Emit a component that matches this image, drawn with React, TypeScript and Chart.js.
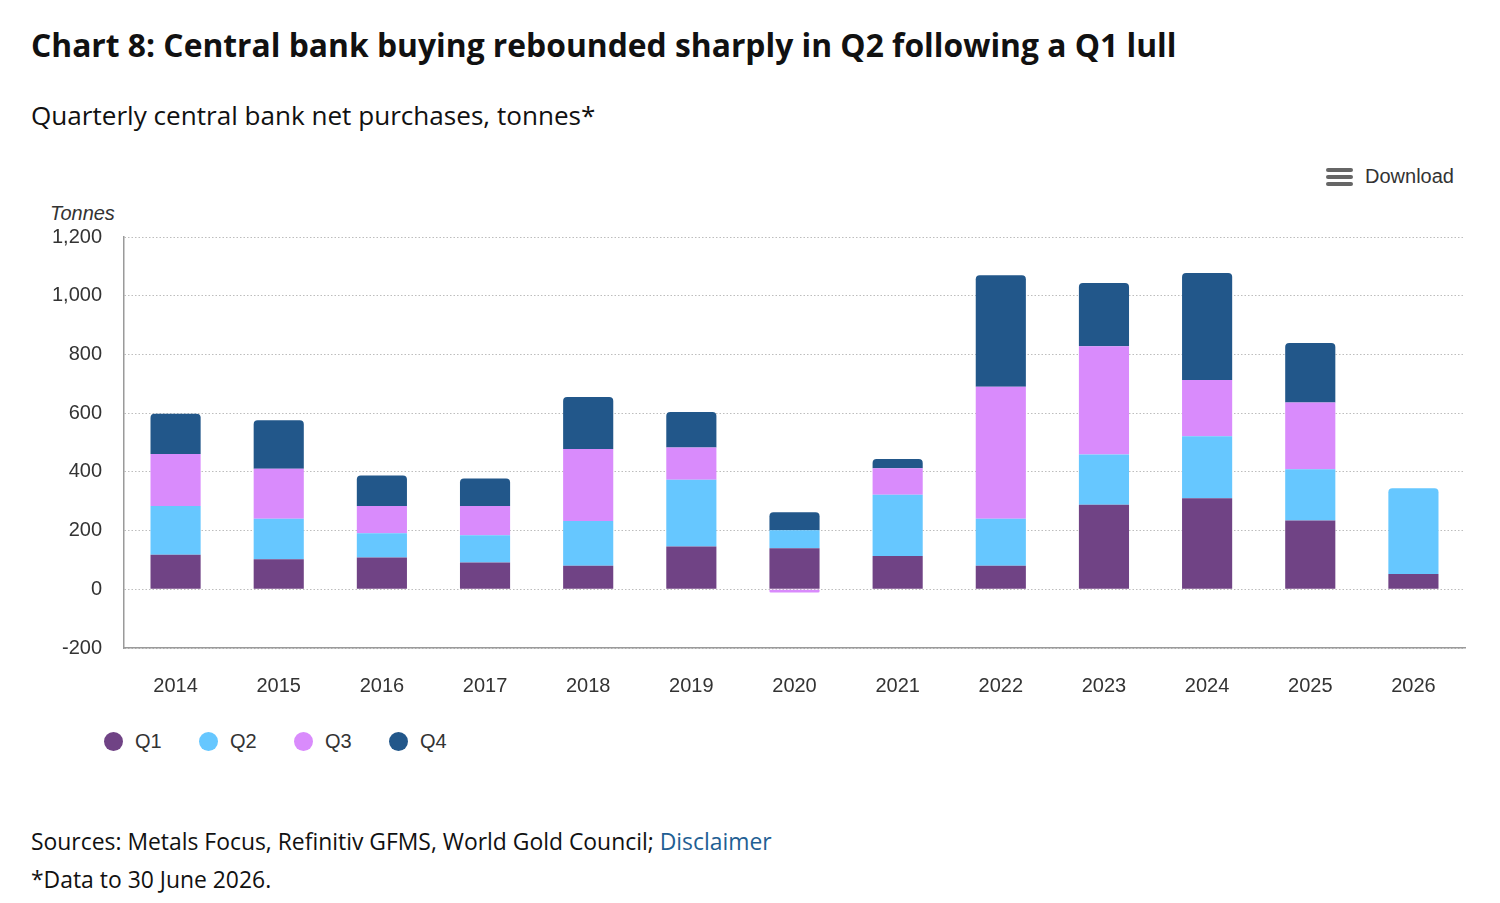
import React, { useEffect, useRef } from "react";
import { Chart, registerables } from "chart.js";

Chart.register(...registerables);

const years = ["2014", "2015", "2016", "2017", "2018", "2019", "2020", "2021", "2022", "2023", "2024", "2025", "2026"];
const q1 = [118, 102, 108, 91, 80, 146, 140, 113, 80, 288, 310, 234, 52];
const q2 = [166, 138, 83, 93, 153, 227, 61, 209, 160, 171, 211, 175, 292];
const q3 = [177, 171, 93, 100, 245, 110, -11, 90, 450, 369, 192, 227, null];
const q4 = [137, 165, 104, 93, 177, 121, 61, 32, 380, 215, 364, 203, null];
const seriesNames = ["Q1", "Q2", "Q3", "Q4"];
const seriesColors = ["#704385", "#66c7ff", "#d98bfc", "#22578a"];
const yTicks = { min: -200, max: 1200, step: 200 };

const AXIS_FONT = "'Liberation Sans', Arial, sans-serif";
const TEXT_FONT = "'Open Sans', 'Noto Sans', sans-serif";

export default function App() {
  const canvasRef = useRef<HTMLCanvasElement | null>(null);

  useEffect(() => {
    document.body.style.margin = "0";
    document.body.style.background = "#fff";
    const canvas = canvasRef.current;
    if (!canvas) return;
    const values = [q1, q2, q3, q4];
    const chart = new Chart(canvas, {
      type: "bar",
      data: {
        labels: years,
        datasets: seriesNames.map((name, i) => ({
          label: name,
          data: values[i],
          backgroundColor: seriesColors[i],
          borderWidth: 0,
          borderRadius: 4,
          borderSkipped: "start",
          categoryPercentage: 0.54,
          barPercentage: 0.9,
        })),
      },
      options: {
        animation: false,
        responsive: false,
        maintainAspectRatio: false,
        devicePixelRatio: 1,
        layout: { padding: { top: 47, right: 25, left: 0, bottom: 0 } },
        plugins: {
          legend: { display: false },
          tooltip: { enabled: false },
        },
        scales: {
          x: {
            stacked: true,
            grid: { display: false, drawTicks: false },
            border: { display: true, color: "#9a9a9a", width: 1.5 },
            ticks: {
              color: "#333",
              font: { family: AXIS_FONT, size: 20 },
              padding: 26,
              maxRotation: 0,
            },
          },
          y: {
            stacked: true,
            min: yTicks.min,
            max: yTicks.max,
            afterFit: (scale: any) => {
              scale.width = 124;
            },
            grid: { color: "#bdbdbd", lineWidth: 1, drawTicks: false },
            border: { display: true, color: "#9a9a9a", width: 1.5, dash: [1.5, 2] },
            ticks: {
              stepSize: yTicks.step,
              color: "#333",
              font: { family: AXIS_FONT, size: 20 },
              padding: 22,
            },
          },
        },
      },
    });
    return () => chart.destroy();
  }, []);

  const legendItems = seriesNames.map((name, i) => (
    <div key={name} style={{ display: "flex", alignItems: "center", width: 95 }}>
      <span
        style={{
          display: "inline-block",
          width: 19,
          height: 19,
          borderRadius: "50%",
          background: seriesColors[i],
          marginRight: 12,
        }}
      />
      <span style={{ font: `20px ${AXIS_FONT}`, color: "#333" }}>{name}</span>
    </div>
  ));

  return (
    <div style={{ position: "relative", width: 1500, height: 903, background: "#fff", overflow: "hidden" }}>
      <div
        style={{
          position: "absolute",
          left: 31,
          top: 29,
          font: `bold 31.8px ${TEXT_FONT}`,
          lineHeight: "31.8px",
          color: "#111",
          whiteSpace: "nowrap",
        }}
      >
        Chart 8: Central bank buying rebounded sharply in Q2 following a Q1 lull
      </div>
      <div
        style={{
          position: "absolute",
          left: 31,
          top: 102,
          font: `26.1px ${TEXT_FONT}`,
          lineHeight: "26.1px",
          color: "#111",
          whiteSpace: "nowrap",
        }}
      >
        Quarterly central bank net purchases, tonnes*
      </div>
      <div style={{ position: "absolute", left: 1326, top: 165, display: "flex", alignItems: "center" }}>
        <div style={{ width: 27, display: "flex", flexDirection: "column", gap: 3 }}>
          <div style={{ height: 4, background: "#666", borderRadius: 2 }} />
          <div style={{ height: 4, background: "#666", borderRadius: 2 }} />
          <div style={{ height: 4, background: "#666", borderRadius: 2 }} />
        </div>
        <span style={{ marginLeft: 12, font: `20px ${AXIS_FONT}`, color: "#333" }}>Download</span>
      </div>
      <div
        style={{
          position: "absolute",
          left: 50,
          top: 203,
          font: `italic 20px ${AXIS_FONT}`,
          lineHeight: "20px",
          color: "#333",
        }}
      >
        Tonnes
      </div>
      <canvas
        ref={canvasRef}
        width={1490}
        height={534}
        style={{ position: "absolute", left: 0, top: 190, width: 1490, height: 534 }}
      />
      <div style={{ position: "absolute", left: 104, top: 730, display: "flex" }}>{legendItems}</div>
      <div
        style={{
          position: "absolute",
          left: 31,
          top: 831,
          font: `22.9px ${TEXT_FONT}`,
          lineHeight: "22.9px",
          color: "#111",
          whiteSpace: "nowrap",
        }}
      >
        Sources: Metals Focus, Refinitiv GFMS, World Gold Council; <span style={{ color: "#1f5f94" }}>Disclaimer</span>
      </div>
      <div
        style={{
          position: "absolute",
          left: 31,
          top: 869,
          font: `22.9px ${TEXT_FONT}`,
          lineHeight: "22.9px",
          color: "#111",
          whiteSpace: "nowrap",
        }}
      >
        *Data to 30 June 2026.
      </div>
    </div>
  );
}
